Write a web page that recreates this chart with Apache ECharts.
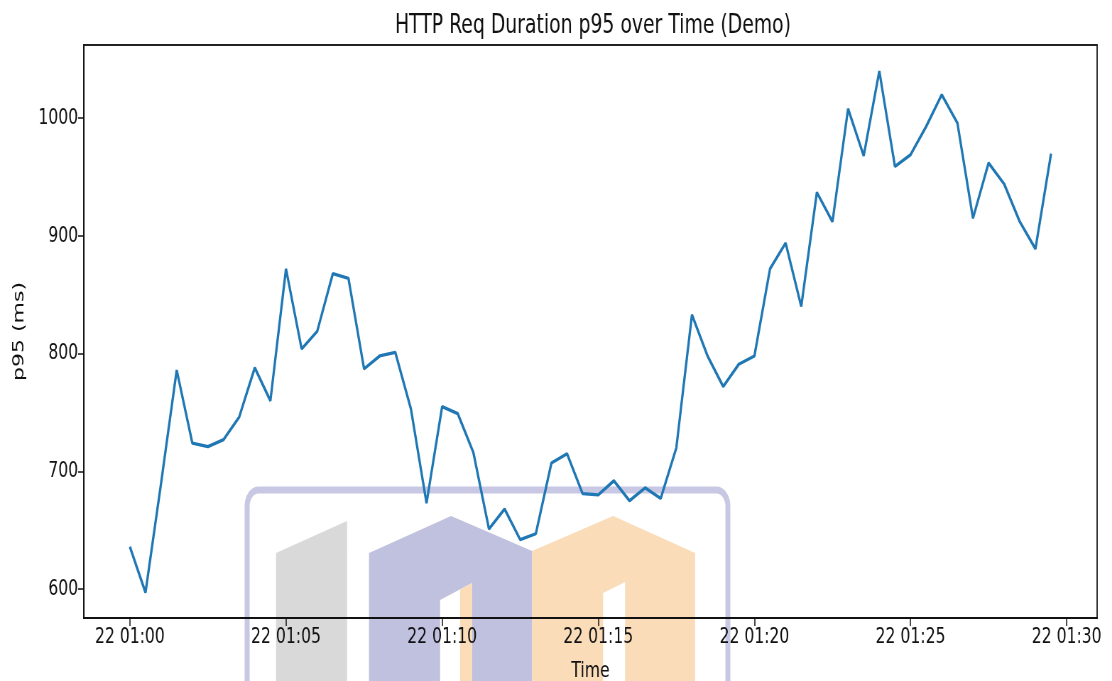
<!DOCTYPE html>
<html lang="en">
<head>
    <meta charset="UTF-8">
    <title>HTTP Req Duration p95 over Time (Demo)</title>
    <script src="https://cdn.jsdelivr.net/npm/echarts@6/dist/echarts.min.js"></script>
    <style>
        html, body { margin: 0; padding: 0; background: #fff; overflow: hidden; }
        /* the reference picture is squeezed sideways, so draw wide and squeeze */
        #main { width: 1566px; height: 681px; transform: scaleX(0.7101); transform-origin: 0 0; }
    </style>
</head>
<body>
<div id="main"></div>
<script>
    // minutes after 22 01:00, one sample every 30 s
    var timeMin = [0, 0.5, 1, 1.5, 2, 2.5, 3, 3.5, 4, 4.5, 5, 5.5, 6, 6.5, 7, 7.5, 8, 8.5, 9, 9.5,
        10, 10.5, 11, 11.5, 12, 12.5, 13, 13.5, 14, 14.5, 15, 15.5, 16, 16.5, 17, 17.5, 18, 18.5, 19, 19.5,
        20, 20.5, 21, 21.5, 22, 22.5, 23, 23.5, 24, 24.5, 25, 25.5, 26, 26.5, 27, 27.5, 28, 28.5, 29, 29.5];
    var p95 = [636, 597, 690, 786, 724, 721, 727, 746, 788, 760,
        872, 804, 819, 868, 864, 787, 798, 801, 753, 673,
        755, 749, 716, 651, 668, 642, 647, 707, 715, 681,
        680, 692, 675, 686, 677, 720, 833, 798, 772, 791,
        798, 872, 894, 840, 937, 912, 1008, 968, 1040, 959,
        969, 993, 1020, 996, 915, 962, 944, 912, 889, 970];
    var xTicks = [0, 5, 10, 15, 20, 25, 30];
    var yTicks = [600, 700, 800, 900, 1000];
    var xMin = -1.475, xMax = 30.975;
    var yMin = 575.4, yMax = 1062.2;

    var font = 'DejaVu Sans';
    var chart = echarts.init(document.getElementById('main'));

    option = {
        animation: false,
        backgroundColor: '#fff',
        title: {
            text: 'HTTP Req Duration p95 over Time (Demo)',
            left: 830,
            textAlign: 'center',
            top: 8,
            textStyle: { fontFamily: font, fontSize: 26.5, fontWeight: 'normal', color: '#111' }
        },
        grid: {
            left: 118, right: 21, top: 45, bottom: 63,
            outerBoundsMode: 'none',
            containLabel: false,
            show: true, borderColor: '#222', borderWidth: 1.8
        },
        xAxis: {
            type: 'value',
            min: xMin, max: xMax,
            name: 'Time',
            nameLocation: 'middle',
            nameGap: 42,
            nameTextStyle: { fontFamily: font, fontSize: 22, color: '#111' },
            axisLine: { show: true, onZero: false, lineStyle: { color: '#111', width: 1.8 } },
            axisTick: { show: true, inside: false, length: 8, customValues: xTicks, lineStyle: { color: '#111', width: 1.5 } },
            axisLabel: {
                customValues: xTicks, margin: 8,
                fontFamily: font, fontSize: 22, color: '#111',
                formatter: function (v) { return '22 01:' + String(v).padStart(2, '0'); }
            },
            splitLine: { show: false }
        },
        yAxis: {
            type: 'value',
            min: yMin, max: yMax,
            name: 'p95 (ms)',
            nameLocation: 'middle',
            nameGap: 80,
            nameTextStyle: { fontFamily: font, fontSize: 22, color: '#111' },
            axisLine: { show: true, onZero: false, lineStyle: { color: '#111', width: 1.8 } },
            axisTick: { show: true, inside: false, length: 8, customValues: yTicks, lineStyle: { color: '#111', width: 1.5 } },
            axisLabel: {
                customValues: yTicks, margin: 8, fontFamily: font, fontSize: 22, color: '#111',
                formatter: function (v) { return String(v); }
            },
            splitLine: { show: false }
        },
        // faint logo behind the plot
        graphic: [
            { type: 'rect', z: -10, shape: { x: 348, y: 490, width: 677, height: 240, r: 16 },
              style: { fill: 'none', stroke: '#c8c8e4', lineWidth: 7 } },
            { type: 'polygon', z: -10, shape: { points: [[388.7, 553], [488.7, 521], [488.7, 700], [388.7, 700]] },
              style: { fill: '#d9d9d9' } },
            { type: 'polygon', z: -10, shape: { points: [[519.7, 553], [635.2, 516], [749.3, 551], [749.3, 700], [664.8, 700],
                    [664.8, 583], [619.7, 600], [619.7, 700], [519.7, 700]] },
              style: { fill: '#c0c0df' } },
            { type: 'polygon', z: -10, shape: { points: [[647.9, 589.4], [664.8, 583], [664.8, 700], [647.9, 700]] },
              style: { fill: '#fadcb9' } },
            { type: 'polygon', z: -10, shape: { points: [[749.3, 551], [863.4, 516], [978.9, 553], [978.9, 700], [880.3, 700],
                    [880.3, 582], [849.3, 593], [849.3, 700], [749.3, 700]] },
              style: { fill: '#fadcb9' } }
        ],
        series: [
            {
                name: 'p95',
                type: 'line',
                data: timeMin.map(function (t, i) { return [t, p95[i]]; }),
                showSymbol: false,
                lineStyle: { color: '#1f77b4', width: 3.3 },
                z: 3
            }
        ]
    };

    chart.setOption(option);
    window.onresize = function () {
        chart.resize();
    }
</script>
</body>
</html>
